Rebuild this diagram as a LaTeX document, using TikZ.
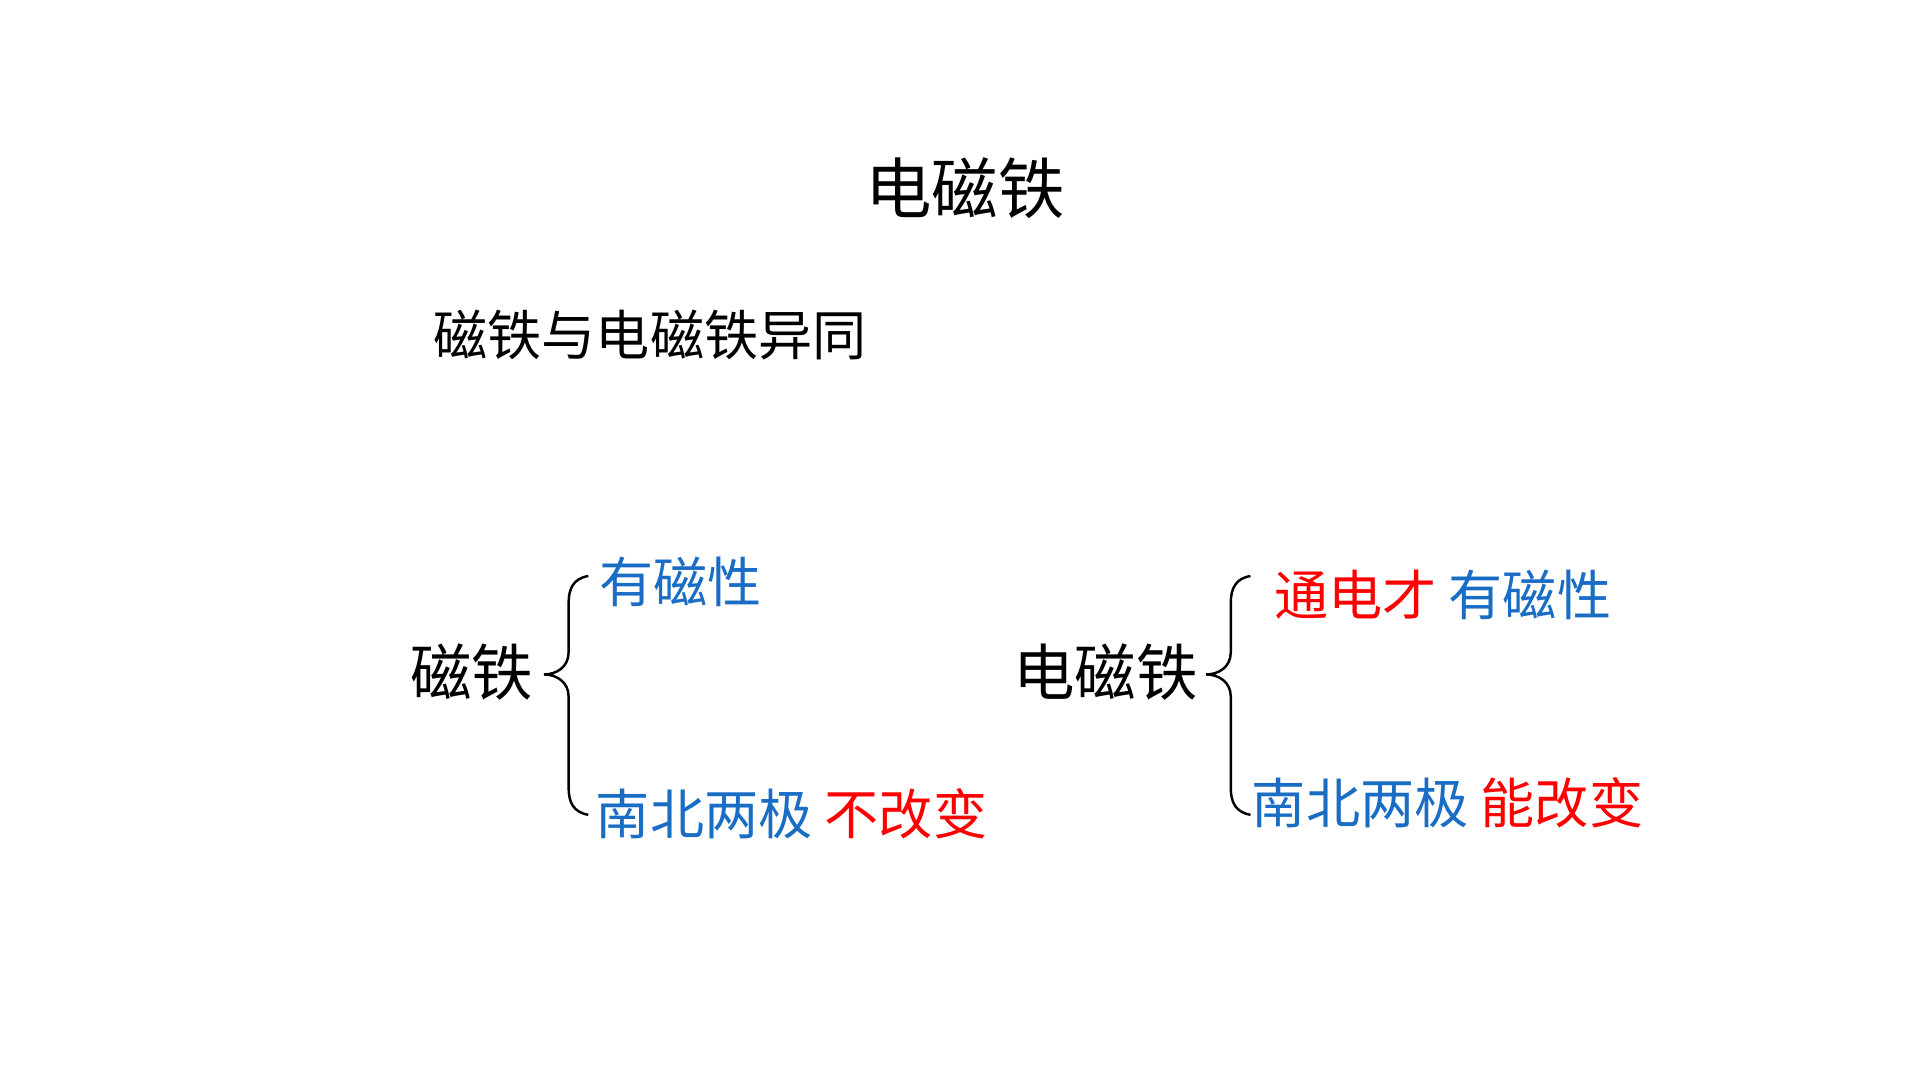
\documentclass[tikz,border=0pt]{standalone}
\usepackage{fontspec}
\newfontfamily\cjk{Noto Sans CJK SC}[BoldFont={Noto Sans CJK SC Bold}]
\definecolor{myblue}{HTML}{1A6DC4}
\definecolor{myred}{HTML}{FF0000}
\begin{document}
\begin{tikzpicture}[x=1pt,y=-1pt,
  txt/.style={inner sep=0pt,font=\cjk},
  br/.style={line width=2pt,black}]
\useasboundingbox (0,0) rectangle (1560,877.5);
\node[txt,font=\cjk\fontsize{54}{54}\selectfont] (title) at (784,153) {电磁铁};
\node[txt,anchor=west,font=\cjk\fontsize{44}{44}\selectfont] (sub) at (352,272) {磁铁与电磁铁异同};
\node[txt,anchor=west,font=\cjk\fontsize{50}{50}\selectfont] (a) at (333,546) {磁铁};
\node[txt,anchor=west,font=\cjk\fontsize{44}{44}\selectfont,text=myblue] (a1) at (487,473) {有磁性};
\node[txt,anchor=west,font=\cjk\fontsize{44}{44}\selectfont] (a2) at (484,661) {\textcolor{myblue}{南北两极} \textcolor{myred}{不改变}};
\node[txt,anchor=west,font=\cjk\fontsize{50}{50}\selectfont] (b) at (823,546) {电磁铁};
\node[txt,anchor=west,font=\cjk\fontsize{44}{44}\selectfont] (b1) at (1035,483) {\textcolor{myred}{通电才} \textcolor{myblue}{有磁性}};
\node[txt,anchor=west,font=\cjk\fontsize{44}{44}\selectfont] (b2) at (1017,652) {\textcolor{myblue}{南北两极} \textcolor{myred}{能改变}};
\foreach \x in {0,538}{
\draw[br] (478+\x,468) .. controls (466+\x,470) and (462+\x,478) .. (462+\x,490)
  -- (462+\x,530) .. controls (462+\x,542) and (452+\x,548) .. (442+\x,548)
  .. controls (452+\x,548) and (462+\x,554) .. (462+\x,566)
  -- (462+\x,640) .. controls (462+\x,652) and (466+\x,660) .. (478+\x,662);
}
\end{tikzpicture}
\end{document}
